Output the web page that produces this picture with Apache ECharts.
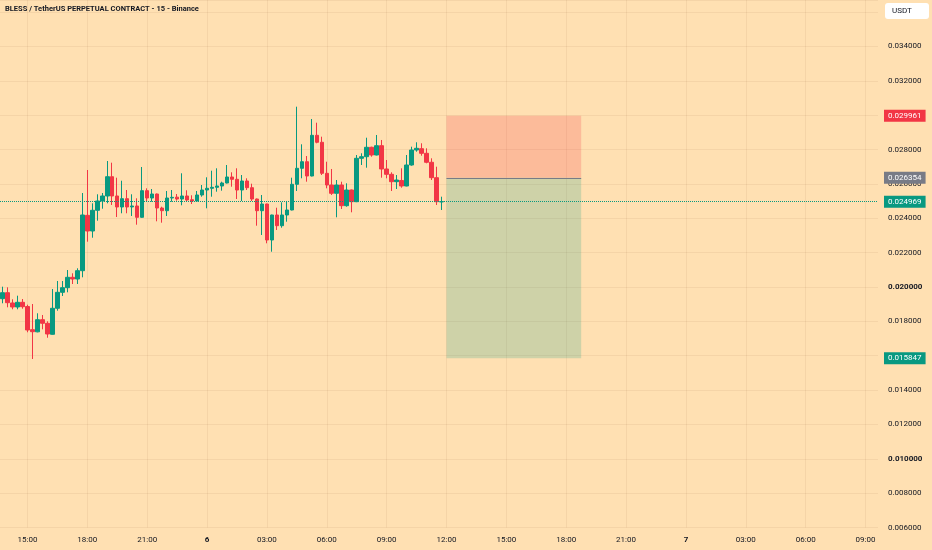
<!DOCTYPE html>
<html><head><meta charset="utf-8">
<script src="https://cdn.jsdelivr.net/npm/echarts@6/dist/echarts.min.js"></script>
<style>html,body{margin:0;padding:0;background:#FFE0B2;}#c{width:932px;height:550px;}</style>
</head><body><div id="c"></div>
<script>
const chartTitle = 'BLESS / TetherUS PERPETUAL CONTRACT - 15 - Binance';
const currencyLabel = 'USDT';
// time slots (15-minute bars) starting day 5, 13:45
const startDay = 5, startMinutes = 13 * 60 + 45, slotMinutes = 15, slotCount = 176;
const tickTimes = ['00:00','03:00','06:00','09:00','12:00','15:00','18:00','21:00'];
const boldPrices = [0.02, 0.01];

const opens = [0.019319,0.019668,0.019070,0.018836,0.019109,0.018860,0.017514,0.017390,0.018096,0.017887,
0.017246,0.018760,0.019691,0.019959,0.020564,0.020465,0.020949,0.024170,0.023259,0.024464,
0.025006,0.025297,0.026420,0.025297,0.024657,0.025140,0.024660,0.024715,0.024057,0.025606,
0.025180,0.025413,0.024598,0.024441,0.025180,0.025230,0.025122,0.025297,0.025080,0.025006,
0.025355,0.025646,0.025745,0.025803,0.025879,0.026054,0.026403,0.026269,0.025646,0.026170,
0.025780,0.025122,0.024441,0.024831,0.022736,0.024191,0.023568,0.024191,0.024482,0.025978,
0.026909,0.027293,0.026461,0.028830,0.028423,0.026618,0.025937,0.025454,0.025937,0.024732,
0.025646,0.024965,0.027491,0.027585,0.028132,0.027683,0.028225,0.026869,0.026560,0.026129,
0.026200,0.025879,0.027101,0.027974,0.028050,0.027782,0.027259,0.026362,0.024955];
const closes = [0.019668,0.019086,0.018836,0.019109,0.018853,0.017497,0.017398,0.018096,0.017887,0.017264,
0.018760,0.019691,0.019959,0.020564,0.020465,0.020949,0.024191,0.023259,0.024464,0.025006,
0.025297,0.026420,0.025297,0.024657,0.025140,0.024657,0.024715,0.024057,0.025606,0.025180,
0.025413,0.024598,0.024441,0.025180,0.025221,0.025122,0.025297,0.025064,0.025006,0.025355,
0.025646,0.025745,0.025803,0.025879,0.026054,0.026403,0.026269,0.025646,0.026170,0.025780,
0.025122,0.024441,0.024831,0.022736,0.024191,0.023568,0.024191,0.024482,0.025978,0.026909,
0.027293,0.026461,0.028830,0.028423,0.026618,0.025937,0.025454,0.025937,0.024732,0.025646,
0.024965,0.027491,0.027585,0.028132,0.027683,0.028225,0.026869,0.026560,0.026129,0.026228,
0.025879,0.027101,0.027974,0.028073,0.027782,0.027259,0.026362,0.024965,0.024969];
const lows = [0.019051,0.018818,0.018702,0.018702,0.018737,0.017363,0.015809,0.017363,0.017537,0.017048,
0.017230,0.018620,0.019476,0.019691,0.020174,0.020174,0.020564,0.022637,0.022869,0.023859,
0.024558,0.024872,0.024773,0.024074,0.024290,0.024290,0.024133,0.023626,0.024034,0.024965,
0.024965,0.023824,0.023743,0.024133,0.024965,0.025023,0.024755,0.024948,0.024831,0.024965,
0.025256,0.024581,0.025256,0.025547,0.025606,0.026030,0.025838,0.025122,0.025006,0.025646,
0.025006,0.023568,0.023027,0.022543,0.022054,0.023318,0.023452,0.023801,0.024460,0.025588,
0.026327,0.026129,0.026440,0.028365,0.026519,0.025745,0.025355,0.024057,0.024540,0.024674,
0.024348,0.024940,0.027101,0.026944,0.027585,0.027660,0.026362,0.026327,0.025588,0.025704,
0.025780,0.025860,0.027061,0.027876,0.027643,0.027200,0.026228,0.024773,0.024482];
const highs = [0.020017,0.019982,0.019284,0.019493,0.019301,0.018969,0.019010,0.018469,0.018370,0.018003,
0.019883,0.020349,0.020349,0.020989,0.020797,0.021088,0.025471,0.026810,0.024872,0.025396,
0.025471,0.027334,0.027235,0.026362,0.026187,0.025646,0.025396,0.025163,0.026985,0.025745,
0.025704,0.025440,0.024674,0.025588,0.025646,0.025413,0.026618,0.025629,0.025338,0.025588,
0.025937,0.026385,0.026770,0.026909,0.026129,0.027101,0.026676,0.026909,0.026519,0.026327,
0.026013,0.025150,0.025355,0.024850,0.024210,0.024616,0.024930,0.025006,0.026362,0.030495,
0.028306,0.027625,0.029779,0.029564,0.028749,0.027293,0.026869,0.026228,0.026129,0.026036,
0.025670,0.027683,0.027782,0.028690,0.028167,0.028848,0.028557,0.027392,0.026676,0.026519,
0.026909,0.027683,0.028167,0.028423,0.028365,0.028073,0.027491,0.027002,0.025256];

const stopPrice = 0.029961, entryPrice = 0.026354, targetPrice = 0.015847, lastPrice = 0.024969;
const positionStart = '6 12:00', positionEnd = '6 18:45';

const pad = n => (n < 10 ? '0' : '') + n;
const categories = [];
for (let i = 0; i < slotCount; i++) {
  const m = startMinutes + i * slotMinutes;
  const day = startDay + Math.floor(m / 1440);
  const mm = m % 1440;
  categories.push(day + ' ' + pad(Math.floor(mm / 60)) + ':' + pad(mm % 60));
}
const isTick = (idx) => tickTimes.indexOf(categories[idx].split(' ')[1]) >= 0;
const candles = opens.map((o, i) => [o, closes[i], lows[i], highs[i]]);

const UP = '#089981', DOWN = '#F23645', GRAY = '#787B86';
const FONT = 'Roboto, sans-serif';
const gridColor = 'rgba(140,100,50,0.09)';

// one empty helper series per price tag; the tag is drawn by its markLine label
const priceTag = (price, bg, lineStyle) => ({
  type: 'line', data: [], silent: true, z: 5,
  markLine: {
    silent: true, symbol: ['none', 'none'], animation: false, precision: 6,
    lineStyle: lineStyle,
    emphasis: { disabled: true },
    label: {
      show: true, position: 'end', distance: 6, formatter: () => price.toFixed(6),
      color: '#ffffff', backgroundColor: bg, fontSize: 8, fontFamily: FONT, padding: [2, 4, 2, 4]
    },
    data: [{ yAxis: price }]
  }
});
const hiddenLine = { color: 'rgba(0,0,0,0)', width: 0 };

const chart = echarts.init(document.getElementById('c'), null, { renderer: 'canvas' });
chart.setOption({
  backgroundColor: '#FFE0B2',
  animation: false,
  textStyle: { fontFamily: FONT },
  grid: { left: 0, right: 54, top: 0, bottom: 22.5 },
  xAxis: {
    type: 'category', data: categories, boundaryGap: true,
    axisLine: { show: false }, axisTick: { show: false },
    axisLabel: {
      interval: (i) => isTick(i), margin: 8, fontSize: 8, color: '#131722', fontFamily: FONT,
      formatter: (v) => { const t = v.split(' '); return t[1] === '00:00' ? '{b|' + t[0] + '}' : t[1]; },
      rich: { b: { fontWeight: 'bold', fontSize: 8, color: '#131722', fontFamily: FONT } }
    },
    splitLine: { show: true, interval: (i) => isTick(i), alignWithLabel: true, lineStyle: { color: gridColor, width: 1 } }
  },
  yAxis: {
    type: 'value', position: 'right', min: 0.006, max: 0.036706, interval: 0.002, scale: true,
    axisLine: { show: false }, axisTick: { show: false },
    splitLine: { show: true, lineStyle: { color: gridColor, width: 1 } },
    axisLabel: {
      margin: 10, fontSize: 8, color: '#131722', fontFamily: FONT,
      formatter: (v) => {
        if (v > 0.0355) return '';
        const s = v.toFixed(6);
        return boldPrices.some(b => Math.abs(b - v) < 1e-9) ? '{b|' + s + '}' : s;
      },
      rich: { b: { fontWeight: 'bold', fontSize: 8, color: '#131722', fontFamily: FONT } }
    }
  },
  series: [{
    type: 'candlestick', data: candles, barWidth: 4,
    itemStyle: { color: UP, color0: DOWN, borderColor: UP, borderColor0: DOWN, borderWidth: 1 },
    markArea: {
      silent: true,
      data: [
        [{ xAxis: positionStart, yAxis: entryPrice, itemStyle: { color: 'rgba(242,54,69,0.22)' } }, { xAxis: positionEnd, yAxis: stopPrice }],
        [{ xAxis: positionStart, yAxis: targetPrice, itemStyle: { color: 'rgba(8,153,129,0.2)' } }, { xAxis: positionEnd, yAxis: entryPrice }]
      ]
    },
    markLine: {
      silent: true, symbol: ['none', 'none'], animation: false, precision: 6,
      lineStyle: { color: GRAY, width: 1, type: 'solid' }, label: { show: false },
      data: [[{ coord: [positionStart, entryPrice] }, { coord: [positionEnd, entryPrice] }]]
    }
  },
  priceTag(lastPrice, UP, { type: 'dotted', color: UP, width: 1 }),
  priceTag(stopPrice, DOWN, hiddenLine),
  priceTag(entryPrice, GRAY, hiddenLine),
  priceTag(targetPrice, UP, hiddenLine)
  ],
  graphic: [
    { type: 'text', left: 5, top: 5, style: { text: chartTitle, fontSize: 7.5, fontWeight: 'bold', fill: '#131722', fontFamily: FONT } },
    { type: 'rect', shape: { x: 885, y: 3, width: 44, height: 16, r: 3 }, style: { fill: '#ffffff' } },
    { type: 'text', x: 892, y: 11, style: { text: currencyLabel, fontSize: 8, fill: '#131722', fontFamily: FONT, verticalAlign: 'middle' } }
  ]
});
</script></body></html>
